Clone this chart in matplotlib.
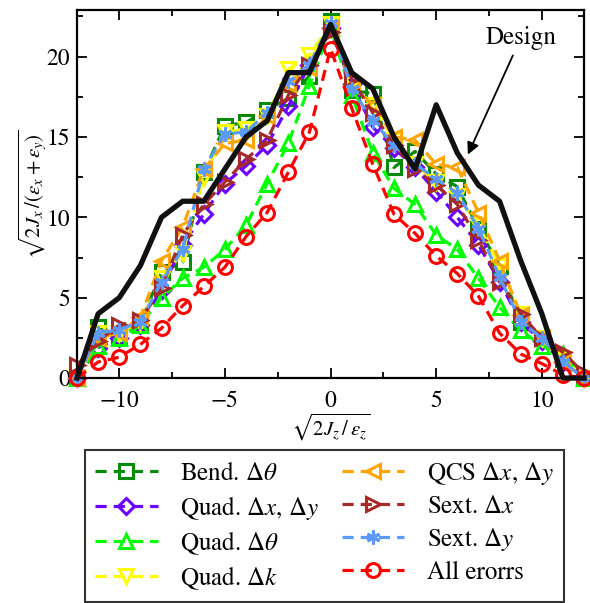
import numpy as np
import matplotlib
matplotlib.use("Agg")
import matplotlib.pyplot as plt

plt.rcParams['font.family'] = ['STIXGeneral', 'DejaVu Serif']
plt.rcParams['mathtext.fontset'] = 'stix'

# amplitude grid
x = np.arange(-12, 13)

design = [0, 4, 5, 7, 10, 11, 11, 13, 15, 16, 19, 19, 22,
          19, 18, 15, 13, 17, 14, 12, 11, 7.3, 4, 0, 0]
bend = [0, 3.2, 2.6, 3.4, 6.6, 7.2, 12.8, 15.7, 15.9, 16.7, 17.4, 18.8, 22.2,
        17.9, 17.7, 13.1, 14.1, 12.7, 11.9, 9.3, 7.0, 3.5, 2.5, 1.2, 0]
quad_xy = [0, 1.9, 2.5, 3.3, 5.5, 8.3, 10.2, 12.1, 13.2, 14.5, 16.9, 19.5, 21.8,
           18.3, 15.6, 14.3, 13.1, 11.6, 10.0, 8.3, 6.0, 3.5, 2.3, 1.0, 0]
quad_th = [0, 2.0, 2.5, 3.3, 5.0, 6.2, 6.9, 8.0, 9.5, 12.1, 14.6, 18.2, 21.8,
           17.6, 14.0, 11.8, 10.8, 8.9, 8.0, 6.2, 4.4, 3.0, 2.0, 1.5, 0]
quad_k = [0, 2.8, 2.8, 3.5, 6.2, 7.8, 12.5, 15.3, 15.5, 16.3, 19.2, 20.1, 22.0,
          18.3, 17.0, 14.8, 13.3, 12.2, 11.3, 9.5, 7.0, 4.0, 2.5, 1.2, 0]
qcs = [0, 2.5, 2.8, 3.8, 7.3, 9.4, 13.0, 14.6, 14.8, 16.3, 18.3, 19.3, 21.8,
       18.2, 17.0, 15.0, 14.8, 13.3, 13.1, 10.3, 7.3, 3.9, 2.5, 1.0, 0]
sext_x = [0.8, 2.3, 3.3, 3.6, 5.6, 8.9, 10.8, 12.2, 13.6, 14.8, 17.6, 19.5, 21.5,
          18.6, 16.5, 14.5, 13.0, 12.0, 10.8, 8.6, 6.0, 4.0, 2.5, 1.6, 0.3]
sext_y = [0, 2.8, 3.0, 3.5, 6.0, 8.0, 13.0, 15.2, 15.3, 16.5, 18.5, 19.5, 22.1,
          18.0, 16.0, 14.5, 13.3, 12.4, 11.5, 9.3, 6.3, 3.5, 2.5, 1.0, 0]
all_err = [0, 1.0, 1.3, 2.1, 3.1, 4.5, 5.7, 6.9, 8.8, 10.3, 12.8, 15.3, 20.5,
           16.8, 13.3, 10.2, 9.0, 7.6, 6.5, 5.1, 2.8, 1.5, 0.9, 0.2, 0]

series = [
    (bend, '#078a07', 's', r'Bend. $\Delta\theta$'),
    (quad_xy, '#6a00ff', 'D', r'Quad. $\Delta x$, $\Delta y$'),
    (quad_th, '#00ff00', '^', r'Quad. $\Delta\theta$'),
    (quad_k, '#ffff00', 'v', r'Quad. $\Delta k$'),
    (qcs, '#ffa500', '<', r'QCS $\Delta x$, $\Delta y$'),
    (sext_x, '#a52a2a', '>', r'Sext. $\Delta x$'),
    (sext_y, '#5b9bff', (6, 2, 0), r'Sext. $\Delta y$'),
    (all_err, '#ff0000', 'o', r'All erorrs'),
]

fig = plt.figure(figsize=(5.9, 6.03), dpi=100)
ax = fig.add_axes([0.1305, 0.373, 0.8595, 0.6105])

handles = []
for vals, col, mk, lab in series:
    ms = 8 if mk == 'D' else 10
    h, = ax.plot(x, vals, ls='--', dashes=(3.5, 2.2), lw=2.3, color=col,
                 marker=mk, ms=ms, mfc='none', mec=col, mew=2.2, label=lab,
                 clip_on=False)
    handles.append(h)

ax.plot(x, design, color='#111111', lw=3.8, zorder=10, clip_on=False)

ax.annotate('Design', xy=(6.5, 13.9), xytext=(9.0, 20.4),
            fontsize=18, ha='center', va='bottom',
            arrowprops=dict(arrowstyle='-|>', color='black', lw=1.3,
                            mutation_scale=18, shrinkA=2, shrinkB=0))

ax.set_xticks([-10, -5, 0, 5, 10])
ax.set_xticks(np.arange(-10, 12.6, 2.5), minor=True)
ax.set_yticks([0, 5, 10, 15, 20])
ax.set_yticks(np.arange(0, 23, 2.5), minor=True)
ax.set_xlim(-12, 12)
ax.set_ylim(0, 22.9)
ax.tick_params(which='both', direction='in', top=True, right=True,
               labelsize=17, width=1.3)
ax.tick_params(which='major', length=7)
ax.tick_params(which='minor', length=4)
ax.tick_params(axis='x', pad=9)
ax.tick_params(axis='y', pad=5)
for sp in ax.spines.values():
    sp.set_linewidth(1.6)

ax.set_xlabel(r'$\sqrt{2J_z\,/\,\varepsilon_z}$', fontsize=15, labelpad=0)
ax.set_ylabel(r'$\sqrt{2J_x\,/\left(\varepsilon_x+\varepsilon_y\right)}$',
              fontsize=15, labelpad=-1)

leg = fig.legend(handles=handles, ncol=2, loc='upper left',
                 bbox_to_anchor=(85 / 590, 1 - 450 / 603), fontsize=18,
                 frameon=True, fancybox=False, edgecolor='black',
                 handlelength=2.5, columnspacing=0.9, labelspacing=0.3,
                 borderpad=0.4, handletextpad=0.9, borderaxespad=0)
leg.get_frame().set_linewidth(1.5)

fig.savefig('out.png', dpi=100)
